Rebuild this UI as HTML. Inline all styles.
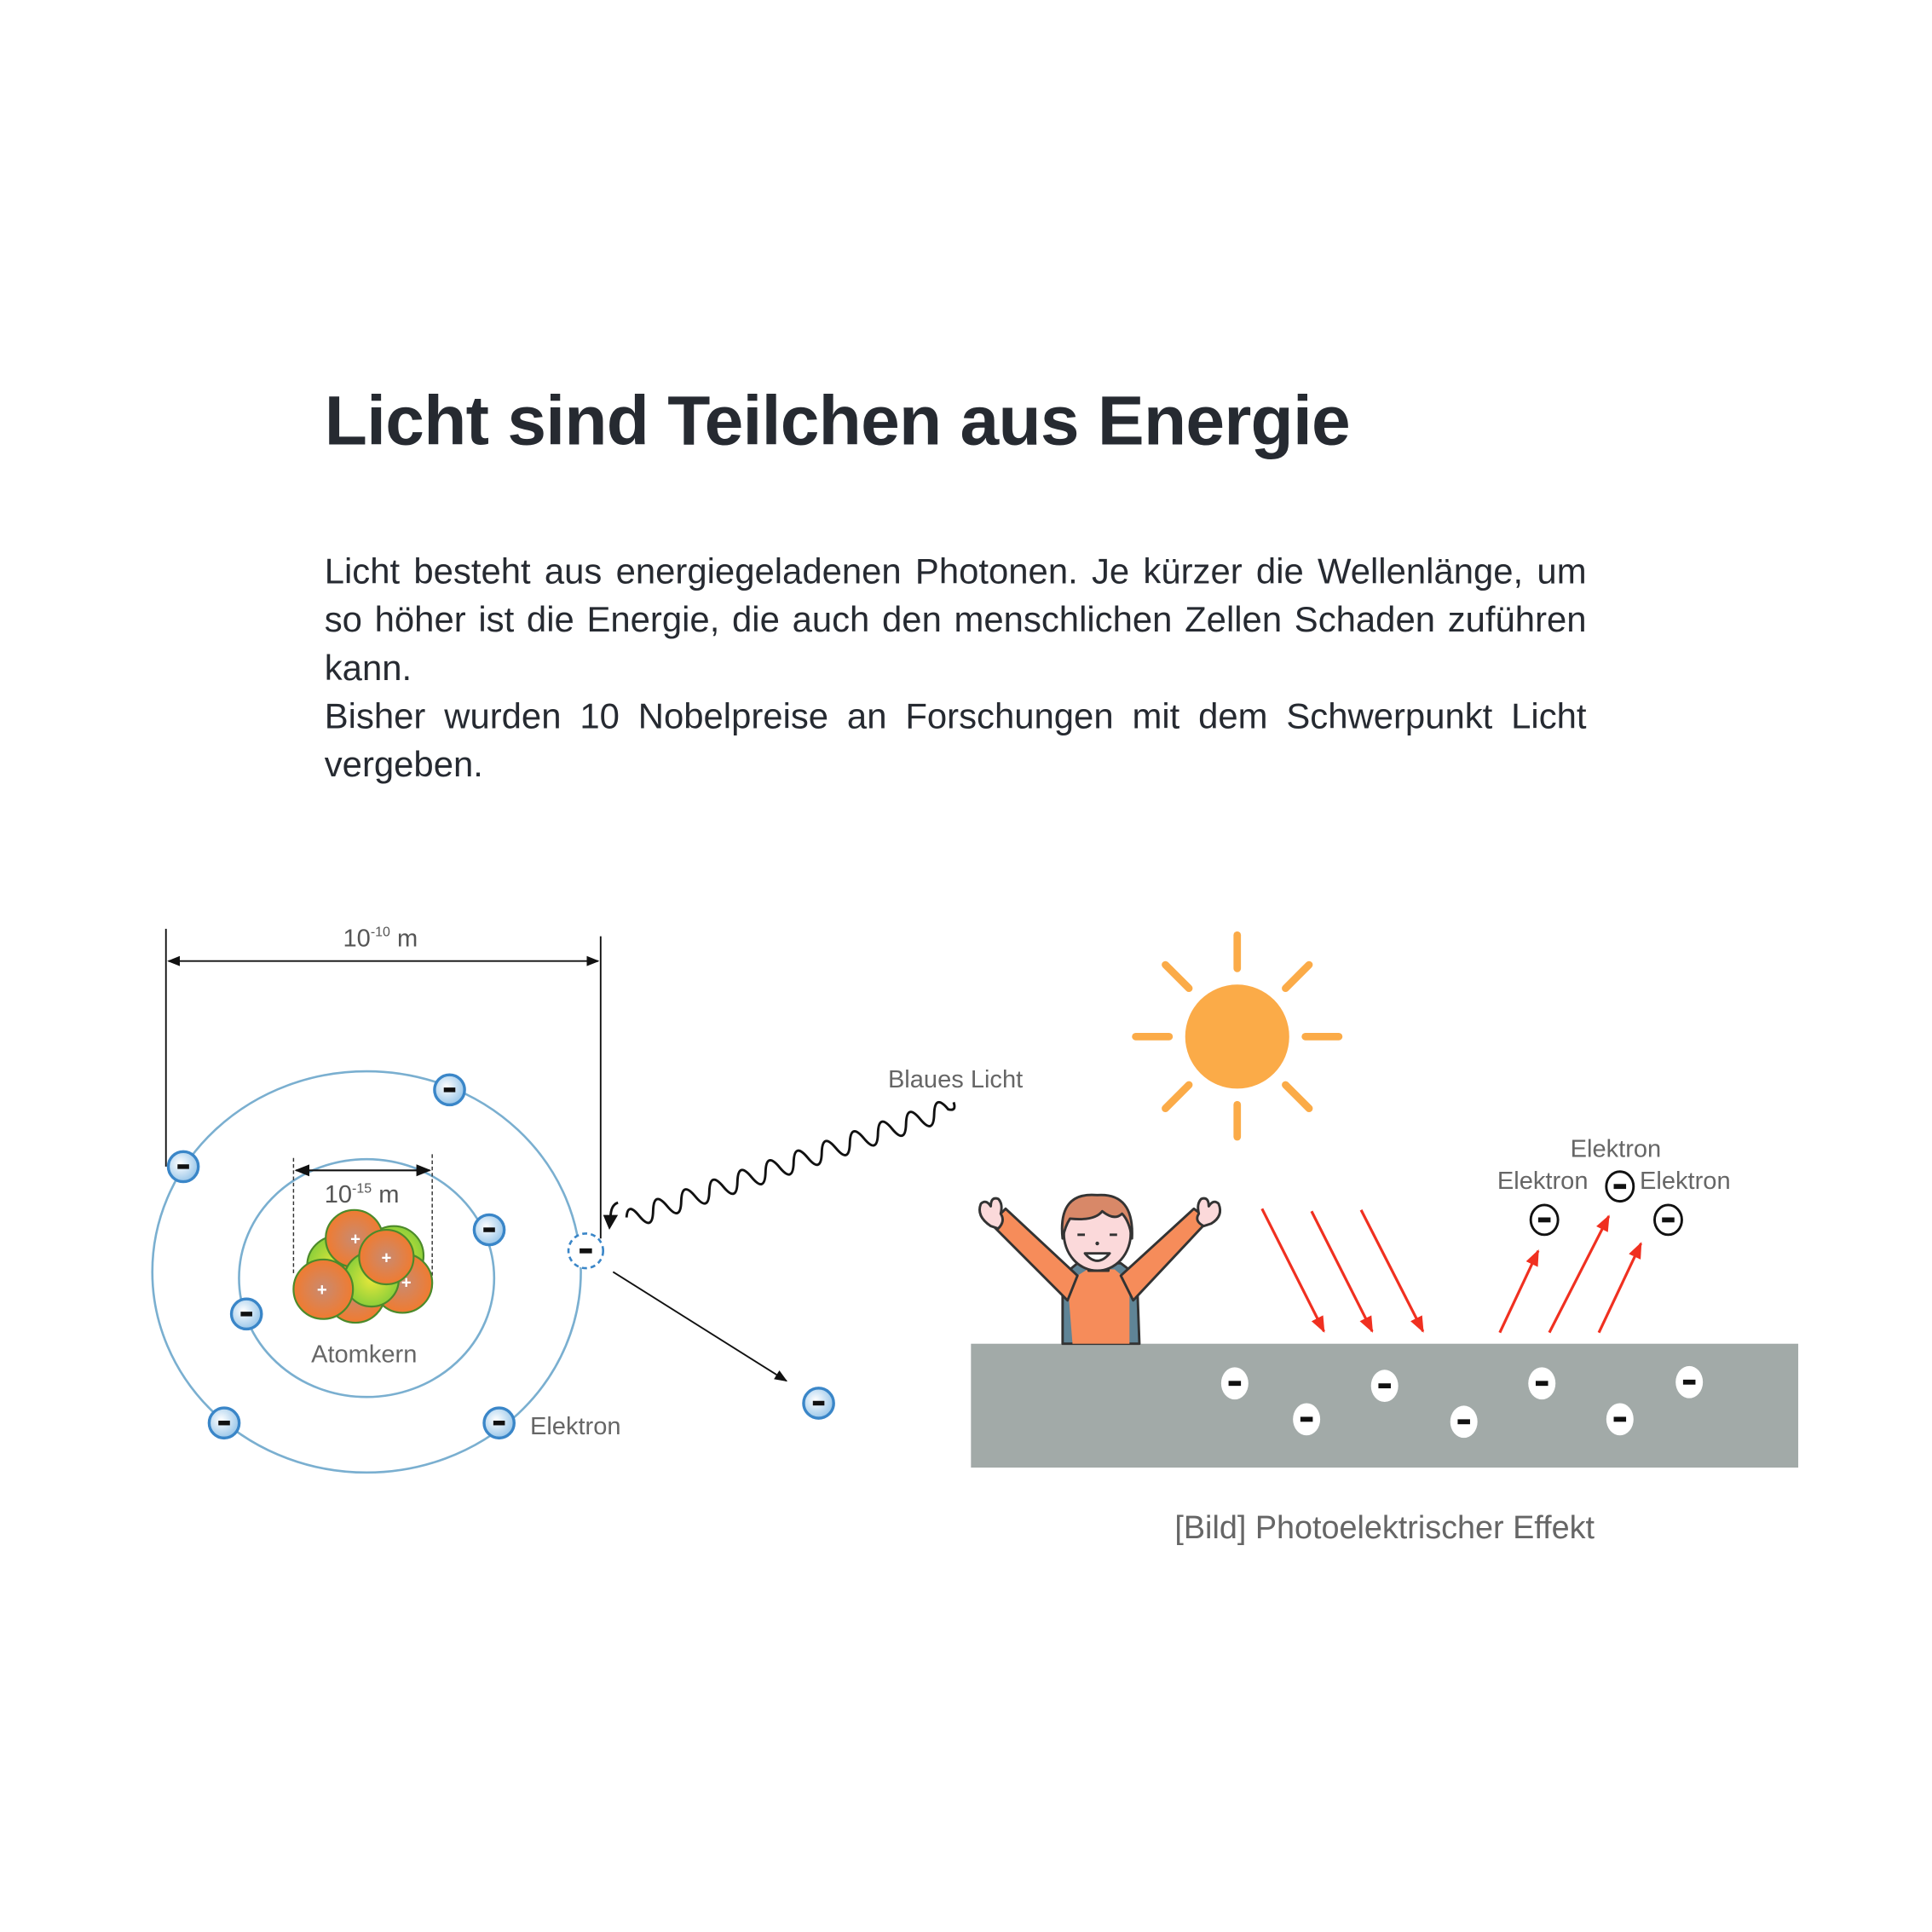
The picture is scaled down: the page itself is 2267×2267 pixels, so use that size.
<!DOCTYPE html>
<html><head><meta charset="utf-8"><style>
html,body{margin:0;padding:0;background:#fff;}
#w{width:2267px;height:2267px;overflow:hidden;position:relative;}
#c{position:absolute;left:0;top:0;width:1560px;height:1560px;transform:scale(1.45321);transform-origin:0 0;font-family:"Liberation Sans",sans-serif;}
h1{position:absolute;left:262px;top:307px;margin:0;font-size:56.5px;font-weight:bold;color:#262a31;letter-spacing:-0.5px;}
p{position:absolute;left:262px;top:443px;width:1019px;margin:0;font-size:28.8px;line-height:39px;color:#262a31;text-align:justify;}
svg{position:absolute;left:0;top:0;}
</style></head><body><div id="w"><div id="c">
<h1>Licht sind Teilchen aus Energie</h1>
<p>Licht besteht aus energiegeladenen Photonen. Je kürzer die Wellenlänge, um so höher ist die Energie, die auch den menschlichen Zellen Schaden zuführen kann.<br>Bisher wurden 10 Nobelpreise an Forschungen mit dem Schwerpunkt Licht vergeben.</p>
<svg width="1560" height="1560" viewBox="0 0 1560 1560" font-family="Liberation Sans, sans-serif">
<defs>
<radialGradient id="eg" cx="0.4" cy="0.4" r="0.6"><stop offset="0" stop-color="#fff"/><stop offset="1" stop-color="#9cc8ea"/></radialGradient>
<radialGradient id="og" cx="0.5" cy="0.5" r="0.5"><stop offset="0" stop-color="#c98a70"/><stop offset="1" stop-color="#f07b30"/></radialGradient>
<radialGradient id="gg" cx="0.5" cy="0.5" r="0.5"><stop offset="0" stop-color="#e8e83a"/><stop offset="1" stop-color="#8ccf3a"/></radialGradient>
<marker id="ab" viewBox="0 0 10 10" refX="9" refY="5" markerWidth="8" markerHeight="8" orient="auto-start-reverse"><path d="M0,1 L10,5 L0,9z" fill="#111"/></marker>
<marker id="ar" viewBox="0 0 10 10" refX="9" refY="5" markerWidth="6" markerHeight="6" orient="auto"><path d="M0,1 L10,5 L0,9z" fill="#f03020"/></marker>
<symbol id="el" viewBox="-15 -15 30 30"><circle r="13" fill="url(#eg)" stroke="#3a86c8" stroke-width="2.5"/><rect x="-5" y="-2" width="10" height="4" fill="#111"/></symbol>
</defs>
<line x1="134" y1="750" x2="134" y2="942" stroke="#111" stroke-width="1.3"/>
<line x1="485" y1="756" x2="485" y2="1000" stroke="#111" stroke-width="1.3"/>
<line x1="136" y1="776" x2="483" y2="776" stroke="#111" stroke-width="1.3" marker-start="url(#ab)" marker-end="url(#ab)"/>
<text x="277" y="764" font-size="20" fill="#555">10<tspan font-size="11" dy="-8">-10</tspan><tspan dy="8"> m</tspan></text>
<ellipse cx="296" cy="1027" rx="173" ry="162" fill="none" stroke="#7aafd0" stroke-width="1.8"/>
<ellipse cx="296" cy="1032" rx="103" ry="96" fill="none" stroke="#7aafd0" stroke-width="1.8"/>
<line x1="237" y1="935" x2="237" y2="1030" stroke="#333" stroke-dasharray="3,2"/>
<line x1="349" y1="932" x2="349" y2="1030" stroke="#333" stroke-dasharray="3,2"/>
<line x1="239" y1="945" x2="347" y2="945" stroke="#111" stroke-width="1.5" marker-start="url(#ab)" marker-end="url(#ab)"/>
<text x="262" y="971" font-size="20" fill="#555">10<tspan font-size="11" dy="-8">-15</tspan><tspan dy="8"> m</tspan></text>
<g stroke="#4c8a2a" stroke-width="1.5">
<circle cx="318" cy="1014" r="24" fill="url(#gg)"/>
<circle cx="272" cy="1022" r="24" fill="url(#gg)"/>
<circle cx="287" cy="1044" r="24" fill="url(#og)"/>
<circle cx="325" cy="1036" r="24" fill="url(#og)"/>
<circle cx="286" cy="1000" r="23" fill="url(#og)"/>
<circle cx="300" cy="1033" r="22" fill="url(#gg)"/>
<circle cx="312" cy="1015" r="22" fill="url(#og)"/>
<circle cx="261" cy="1041" r="24" fill="url(#og)"/>
</g>
<g fill="#fff" font-size="14" font-weight="bold" text-anchor="middle"><text x="287" y="1005">+</text><text x="312" y="1020">+</text><text x="328" y="1040">+</text><text x="260" y="1046">+</text></g>
<text x="294" y="1100" font-size="20" fill="#666" text-anchor="middle">Atomkern</text>
<text x="428" y="1158" font-size="20" fill="#666">Elektron</text>
<use href="#el" x="134" y="928" width="28" height="28"/>
<use href="#el" x="349" y="866" width="28" height="28"/>
<use href="#el" x="381" y="979" width="28" height="28"/>
<use href="#el" x="185" y="1047" width="28" height="28"/>
<use href="#el" x="167" y="1135" width="28" height="28"/>
<use href="#el" x="389" y="1135" width="28" height="28"/>
<use href="#el" x="647" y="1119" width="28" height="28"/>
<circle cx="473" cy="1010" r="14" fill="#fff" stroke="#3a86c8" stroke-width="1.8" stroke-dasharray="4,3"/>
<rect x="468" y="1008" width="10" height="4" fill="#111"/>
<line x1="495" y1="1027" x2="635" y2="1115" stroke="#111" stroke-width="1.3" marker-end="url(#ab)"/>
<g transform="translate(770,890) rotate(161)">
<path d="M0,0 q0,-8 6,-4 q6,16 12,0 q6,-16 12,0 q6,16 12,0 q6,-16 12,0 q6,16 12,0 q6,-16 12,0 q6,16 12,0 q6,-16 12,0 q6,16 12,0 q6,-16 12,0 q6,16 12,0 q6,-16 12,0 q6,16 12,0 q6,-16 12,0 q6,16 12,0 q6,-16 12,0 q6,16 12,0 q6,-16 12,0 q6,16 12,0 q6,-16 12,0 q6,16 12,0 q6,-16 12,0 q5,14 10,2" fill="none" stroke="#111" stroke-width="2"/>
</g>
<path d="M499,971 q-6,2 -6,12" fill="none" stroke="#111" stroke-width="2"/>
<path d="M487,981 L499,981 L492,993z" fill="#111"/>
<text x="717" y="878" font-size="20" fill="#666">Blaues Licht</text>
<circle cx="999" cy="837" r="42" fill="#fbab48"/>
<g stroke="#fbab48" stroke-width="6" stroke-linecap="round">
<line x1="999" y1="755" x2="999" y2="782"/><line x1="999" y1="892" x2="999" y2="918"/>
<line x1="917" y1="837" x2="944" y2="837"/><line x1="1054" y1="837" x2="1081" y2="837"/>
<line x1="941" y1="779" x2="960" y2="798"/><line x1="1038" y1="876" x2="1057" y2="895"/>
<line x1="941" y1="895" x2="960" y2="876"/><line x1="1038" y1="798" x2="1057" y2="779"/>
</g>
<rect x="784" y="1085" width="668" height="100" fill="#a2aaa8"/>
<g>
<ellipse cx="997" cy="1117" rx="11" ry="13" fill="#fff"/><ellipse cx="1118" cy="1119" rx="11" ry="13" fill="#fff"/><ellipse cx="1245" cy="1117" rx="11" ry="13" fill="#fff"/><ellipse cx="1364" cy="1116" rx="11" ry="13" fill="#fff"/>
<ellipse cx="1055" cy="1146" rx="11" ry="13" fill="#fff"/><ellipse cx="1182" cy="1148" rx="11" ry="13" fill="#fff"/><ellipse cx="1308" cy="1146" rx="11" ry="13" fill="#fff"/>
</g>
<g fill="#111"><rect x="992" y="1115" width="10" height="4"/><rect x="1113" y="1117" width="10" height="4"/><rect x="1240" y="1115" width="10" height="4"/><rect x="1359" y="1114" width="10" height="4"/><rect x="1050" y="1144" width="10" height="4"/><rect x="1177" y="1146" width="10" height="4"/><rect x="1303" y="1144" width="10" height="4"/></g>
<g stroke="#f03020" stroke-width="2.2" marker-end="url(#ar)">
<line x1="1019" y1="976" x2="1069" y2="1075"/><line x1="1059" y1="978" x2="1108" y2="1075"/><line x1="1099" y1="977" x2="1149" y2="1075"/>
<line x1="1211" y1="1076" x2="1242" y2="1010"/><line x1="1251" y1="1076" x2="1299" y2="982"/><line x1="1291" y1="1076" x2="1325" y2="1004"/>
</g>
<g fill="#fff" stroke="#111" stroke-width="2"><ellipse cx="1247" cy="985" rx="11" ry="12"/><ellipse cx="1308" cy="958" rx="11" ry="12"/><ellipse cx="1347" cy="985" rx="11" ry="12"/></g>
<g fill="#111"><rect x="1242" y="983" width="10" height="4"/><rect x="1303" y="956" width="10" height="4"/><rect x="1342" y="983" width="10" height="4"/></g>
<g font-size="20" fill="#666"><text x="1268" y="934">Elektron</text><text x="1209" y="960">Elektron</text><text x="1324" y="960">Elektron</text></g>
<g stroke="#333" stroke-width="2" stroke-linejoin="round">
<path d="M858,1085 L858,1030 L870,1020 L905,1020 L918,1030 L920,1085z" fill="#5f8496"/>
<path d="M866,1085 L862,1035 L878,1025 L900,1025 L912,1035 L912,1085z" fill="#f68c5a" stroke="none"/>
<path d="M862,1050 L800,988 L812,976 L870,1030z" fill="#f68c5a"/>
<path d="M915,1050 L976,985 L964,976 L905,1030z" fill="#f68c5a"/>
<path d="M800,990 q-12,-8 -8,-18 q4,-4 8,2 q0,-8 6,-6 q4,4 2,12 q4,6 -2,12z" fill="#fbd9da"/>
<path d="M978,988 q10,-6 6,-16 q-4,-4 -8,2 q0,-8 -6,-6 q-4,4 -2,12 q-4,6 4,10z" fill="#fbd9da"/>
<rect x="879" y="1010" width="16" height="16" fill="#fbd9da"/>
<ellipse cx="886" cy="996" rx="27" ry="30" fill="#fbd9da"/>
<path d="M858,1000 q-4,-38 28,-35 q30,-2 28,35 q-2,-14 -8,-20 q-6,6 -16,-2 q-6,8 -26,6 q-4,6 -6,16z" fill="#d88868"/>
<path d="M876,1012 q10,12 20,0z" fill="#fff"/>
</g>
<g fill="#333"><rect x="870" y="996" width="6" height="2"/><rect x="896" y="996" width="6" height="2"/><circle cx="886" cy="1004" r="1.5"/></g>
<text x="1118" y="1242" font-size="26" fill="#666" text-anchor="middle">[Bild] Photoelektrischer Effekt</text>
</svg>
</div></div></body></html>
